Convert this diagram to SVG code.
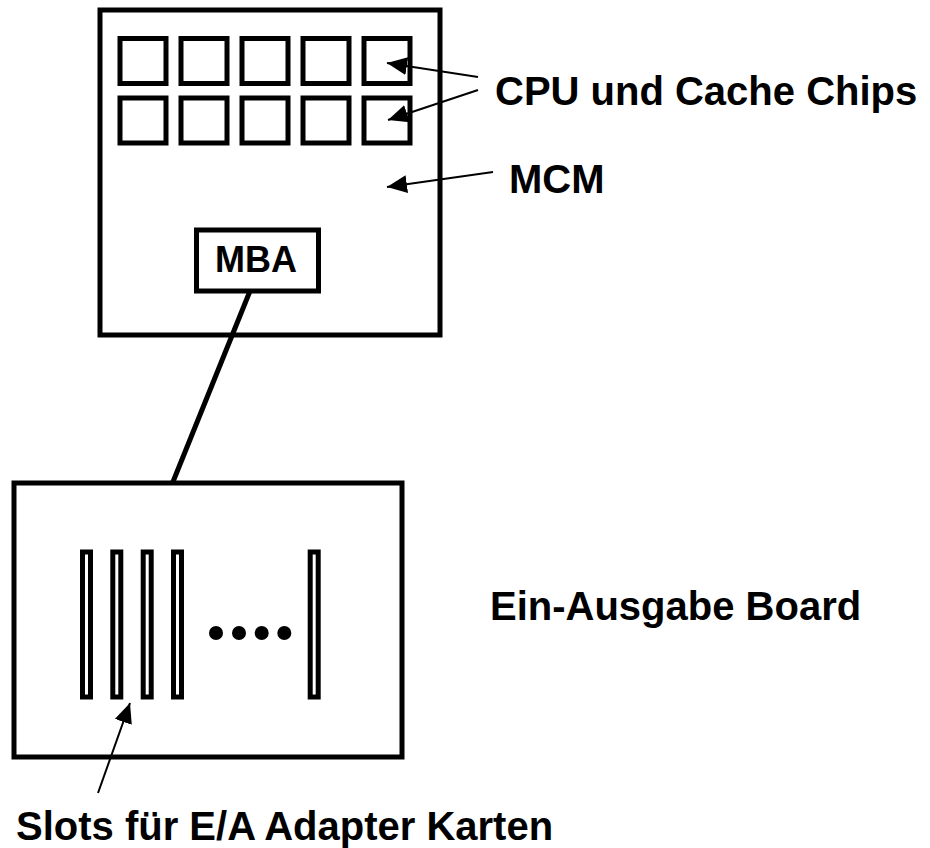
<svg xmlns="http://www.w3.org/2000/svg" width="930" height="848" viewBox="0 0 930 848">
<defs>
<style>
.box{fill:#fff;stroke:#000;stroke-width:5}
.chip{fill:#fff;stroke:#000;stroke-width:5}
.slot{fill:#fff;stroke:#000;stroke-width:5}
.link{stroke:#000;stroke-width:5;fill:none}
.arrow{stroke:#000;stroke-width:2;fill:none;marker-end:url(#ah)}
.lbl{font-family:"Liberation Sans",Arial,sans-serif;font-weight:bold;font-size:40px;fill:#000}
.mba{font-family:"Liberation Sans",Arial,sans-serif;font-weight:bold;font-size:36px;fill:#000;text-anchor:middle}
</style>
<marker id="ah" markerUnits="userSpaceOnUse" viewBox="0 0 20 18" markerWidth="20" markerHeight="18" refX="20" refY="9" orient="auto">
<path d="M0,0 L20,9 L0,18 z" fill="#000"/>
</marker>
</defs>
<rect width="930" height="848" fill="#fff"/>
<g id="mcm">
<rect class="box" x="100" y="10" width="340" height="325"/>
</g>
<g id="chips">
<rect class="chip" x="120" y="38.5" width="46" height="45"/>
<rect class="chip" x="181" y="38.5" width="46" height="45"/>
<rect class="chip" x="242" y="38.5" width="46" height="45"/>
<rect class="chip" x="303" y="38.5" width="46" height="45"/>
<rect class="chip" x="364" y="38.5" width="46" height="45"/>
<rect class="chip" x="120" y="98" width="46" height="45"/>
<rect class="chip" x="181" y="98" width="46" height="45"/>
<rect class="chip" x="242" y="98" width="46" height="45"/>
<rect class="chip" x="303" y="98" width="46" height="45"/>
<rect class="chip" x="364" y="98" width="46" height="45"/>
</g>
<g id="mba">
<rect class="box" x="196.5" y="230" width="122" height="61" stroke-width="4.5"/>
<text class="mba" x="256" y="272">MBA</text>
</g>
<g id="io-board">
<rect class="box" x="14" y="483" width="388" height="274"/>
<rect class="slot" x="82.5" y="552" width="8" height="145"/>
<rect class="slot" x="112.8" y="552" width="8" height="145"/>
<rect class="slot" x="143.2" y="552" width="8" height="145"/>
<rect class="slot" x="173.5" y="552" width="8" height="145"/>
<rect class="slot" x="310.2" y="552" width="8" height="145"/>
<circle cx="216" cy="633" r="7" fill="#000"/>
<circle cx="239" cy="633" r="7" fill="#000"/>
<circle cx="261.7" cy="633" r="7" fill="#000"/>
<circle cx="284.3" cy="633" r="7" fill="#000"/>
</g>
<g id="connectors">
<line class="link" x1="250" y1="291" x2="172.5" y2="483"/>
<line class="arrow" x1="478" y1="77" x2="387" y2="63"/>
<line class="arrow" x1="478" y1="90" x2="388" y2="120"/>
<line class="arrow" x1="493" y1="172" x2="387" y2="187"/>
<line class="arrow" x1="98" y1="793" x2="130" y2="703"/>
</g>
<g id="labels">
<text class="lbl" x="495" y="105">CPU und Cache Chips</text>
<text class="lbl" x="509" y="193">MCM</text>
<text class="lbl" x="490" y="620">Ein-Ausgabe Board</text>
<text class="lbl" x="16" y="840">Slots für E/A Adapter Karten</text>
</g>
</svg>
